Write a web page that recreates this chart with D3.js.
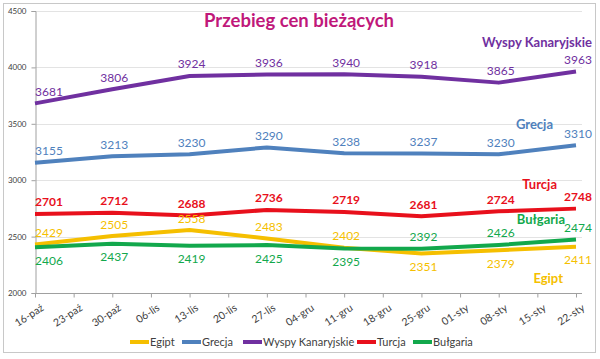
<!DOCTYPE html>
<html>
<head>
<meta charset="utf-8">
<script src="https://cdn.jsdelivr.net/npm/d3@7"></script>
<style>
  body { margin: 0; background: #fff; }
  svg text { font-family: Lato, "Open Sans", sans-serif; }
</style>
</head>
<body>
<svg id="chart" width="600" height="359"></svg>
<script>
// tick labels on the x axis (weekly)
var weeks = ["16-paź","23-paź","30-paź","06-lis","13-lis","20-lis","27-lis","04-gru",
             "11-gru","18-gru","25-gru","01-sty","08-sty","15-sty","22-sty"];
// dates with data (every second week)
var dates = ["16-paź","30-paź","13-lis","27-lis","11-gru","25-gru","08-sty","22-sty"];

var egipt    = [2429, 2505, 2558, 2483, 2402, 2351, 2379, 2411];
var grecja   = [3155, 3213, 3230, 3290, 3238, 3237, 3230, 3310];
var wyspy    = [3681, 3806, 3924, 3936, 3940, 3918, 3865, 3963];
var turcja   = [2701, 2712, 2688, 2736, 2719, 2681, 2724, 2748];
var bulgaria = [2406, 2437, 2419, 2425, 2395, 2392, 2426, 2474];

var yTicks = [2000, 2500, 3000, 3500, 4000, 4500];

var series = [
  {name: "Egipt", values: egipt, color: "#F5BF00", pair: bulgaria},
  {name: "Grecja", values: grecja, color: "#4F81BD"},
  {name: "Wyspy Kanaryjskie", values: wyspy, color: "#7030A0"},
  {name: "Turcja", values: turcja, color: "#E8101C"},
  {name: "Bułgaria", values: bulgaria, color: "#12A84C", pair: egipt}
];

// name tags placed next to the end of each line (offsets from last point)
var tags = {
  "Wyspy Kanaryjskie": {dx: 16, dy: -25},
  "Grecja": {dx: -23, dy: -16},
  "Turcja": {dx: -19, dy: -20},
  "Bułgaria": {dx: -11, dy: -16},
  "Egipt": {dx: -13, dy: 36}
};

/********************* chart *********************/
var svg = d3.select("#chart");
var margin = {left: 35, top: 11};
var plotRight = 582;

// frame
svg.append("rect")
  .attr("x", 3.5).attr("y", 3.5)
  .attr("width", 592).attr("height", 349)
  .attr("fill", "#fff")
  .attr("stroke", "#c8c8c8");

var x = d3.scalePoint().domain(weeks).range([margin.left, 576]);
var y = d3.scaleLinear().domain([2000, 4500]).range([293, margin.top]);

// grid
svg.append("g").selectAll("line")
  .data(yTicks.slice(1))
  .enter().append("line")
    .attr("x1", margin.left).attr("x2", plotRight)
    .attr("y1", function(d) { return Math.round(y(d)) + 0.5; })
    .attr("y2", function(d) { return Math.round(y(d)) + 0.5; })
    .attr("stroke", "#e3e3e3");

// y axis
var gy = svg.append("g")
  .attr("transform", "translate(" + (margin.left + 0.5) + ",0)")
  .call(d3.axisLeft(y).tickValues(yTicks).tickSize(4).tickPadding(5).tickFormat(d3.format("d")));
gy.select(".domain").attr("stroke", "#a0a0a0");
gy.selectAll(".tick line").attr("stroke", "#a0a0a0");
gy.selectAll("text").attr("fill", "#404040").style("font-size", "8px");

// x axis
var gx = svg.append("g")
  .attr("transform", "translate(0," + (Math.round(y(2000)) + 0.5) + ")")
  .call(d3.axisBottom(x).tickSizeInner(4).tickSizeOuter(0));
gx.select(".domain").attr("stroke", "#a0a0a0").attr("d", "M" + margin.left + ",0H" + plotRight);
gx.selectAll(".tick line").attr("stroke", "#a0a0a0");
gx.selectAll("text")
  .attr("fill", "#404040")
  .style("font-size", "10.5px")
  .attr("text-anchor", "end")
  .attr("x", 0).attr("y", 0).attr("dy", "0.35em")
  .attr("transform", "translate(7,13) rotate(-33)");

// title
svg.append("text")
  .attr("x", 299).attr("y", 27)
  .attr("text-anchor", "middle")
  .attr("fill", "#C0187A")
  .style("font-size", "18.5px").style("font-weight", "bold")
  .text("Przebieg cen bieżących");

// lines
var line = d3.line()
  .x(function(d, i) { return x(dates[i]); })
  .y(function(d) { return y(d); });

series.forEach(function(s) {
  svg.append("path")
    .datum(s.values)
    .attr("fill", "none")
    .attr("stroke", s.color)
    .attr("stroke-width", 4)
    .attr("stroke-linejoin", "round")
    .attr("d", line);
});

// data labels (yellow/green pair: the lower one gets its label below)
series.forEach(function(s) {
  svg.append("g").selectAll("text")
    .data(s.values)
    .enter().append("text")
      .attr("x", function(d, i) { return Math.max(x(dates[i]) + 2, margin.left + 14); })
      .attr("y", function(d, i) {
        var below = s.pair && d < s.pair[i];
        return y(d) + (below ? 17.5 : -7.5);
      })
      .attr("text-anchor", "middle")
      .attr("fill", s.color)
      .style("font-size", "12px")
      .style("font-weight", s.name == "Turcja" ? "bold" : "normal")
      .text(function(d) { return d; });
});

// name tags
series.forEach(function(s) {
  var t = tags[s.name];
  var last = s.values.length - 1;
  svg.append("text")
    .attr("x", x(dates[last]) + t.dx)
    .attr("y", y(s.values[last]) + t.dy)
    .attr("text-anchor", "end")
    .attr("fill", s.color)
    .style("font-size", "13px").style("font-weight", "bold")
    .text(s.name);
});

// legend
var legendX = [130, 182, 243, 357, 413];
var legend = svg.append("g");
series.forEach(function(s, i) {
  var g = legend.append("g").attr("transform", "translate(" + legendX[i] + ",342)");
  g.append("line").attr("x1", 0).attr("x2", 19)
    .attr("stroke", s.color).attr("stroke-width", 4);
  g.append("text").attr("x", 20).attr("dy", "0.35em")
    .attr("fill", "#404040").style("font-size", "11px")
    .text(s.name);
});
</script>
</body>
</html>
